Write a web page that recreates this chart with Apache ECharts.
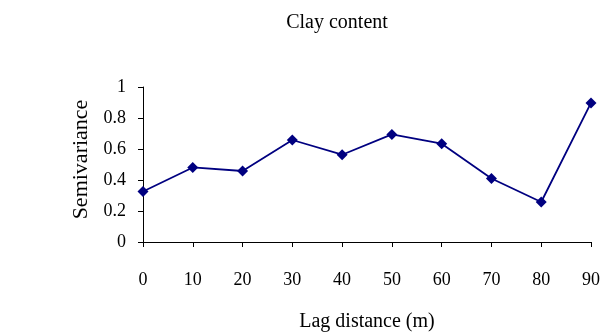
<!DOCTYPE html>
<html>
<head>
<meta charset="utf-8">
<script src="https://cdn.jsdelivr.net/npm/echarts@6/dist/echarts.min.js"></script>
<style>html,body{margin:0;padding:0;background:#fff;}#c{width:603px;height:335px;}</style>
</head>
<body>
<div id="c"></div>
<script>
var lagDistance = [0, 10, 20, 30, 40, 50, 60, 70, 80, 90];
var semivariance = [0.326, 0.481, 0.458, 0.658, 0.563, 0.694, 0.634, 0.410, 0.258, 0.897];
var titleText = 'Clay content';
var xName = 'Lag distance (m)';
var yName = 'Semivariance';

var font = "'Liberation Serif', 'Times New Roman', serif";
var chart = echarts.init(document.getElementById('c'), null, {renderer: 'canvas'});
chart.setOption({
  animation: false,
  backgroundColor: '#fff',
  title: {
    text: titleText, left: 332, top: 8, textAlign: 'center',
    textStyle: {fontFamily: font, fontSize: 20, fontWeight: 'normal', color: '#000'}
  },
  grid: {left: 143, right: 10, top: 87, bottom: 93, containLabel: false},
  xAxis: {
    type: 'value', min: 0, max: 90, interval: 10,
    name: xName, nameLocation: 'middle', nameGap: 70,
    nameTextStyle: {fontFamily: font, fontSize: 20, color: '#000'},
    axisLine: {lineStyle: {color: '#000', width: 1}},
    axisTick: {show: true, length: 5, lineStyle: {color: '#000'}},
    axisLabel: {margin: 29, fontFamily: font, fontSize: 18, color: '#000'},
    splitLine: {show: false}
  },
  yAxis: {
    type: 'value', min: 0, max: 1, interval: 0.2,
    name: yName, nameLocation: 'middle', nameGap: 50,
    nameTextStyle: {fontFamily: font, fontSize: 22, color: '#000', padding: [0, 0, 0, 10]},
    axisLine: {show: true, lineStyle: {color: '#000', width: 1}},
    axisTick: {show: true, length: 5, lineStyle: {color: '#000'}},
    axisLabel: {margin: 17, fontFamily: font, fontSize: 18, color: '#000'},
    splitLine: {show: false}
  },
  series: [{
    type: 'line',
    data: lagDistance.map(function (x, i) { return [x, semivariance[i]]; }),
    symbol: 'diamond', symbolSize: 11,
    lineStyle: {color: '#000080', width: 1.8},
    itemStyle: {color: '#000080'}
  }]
});
</script>
</body>
</html>
